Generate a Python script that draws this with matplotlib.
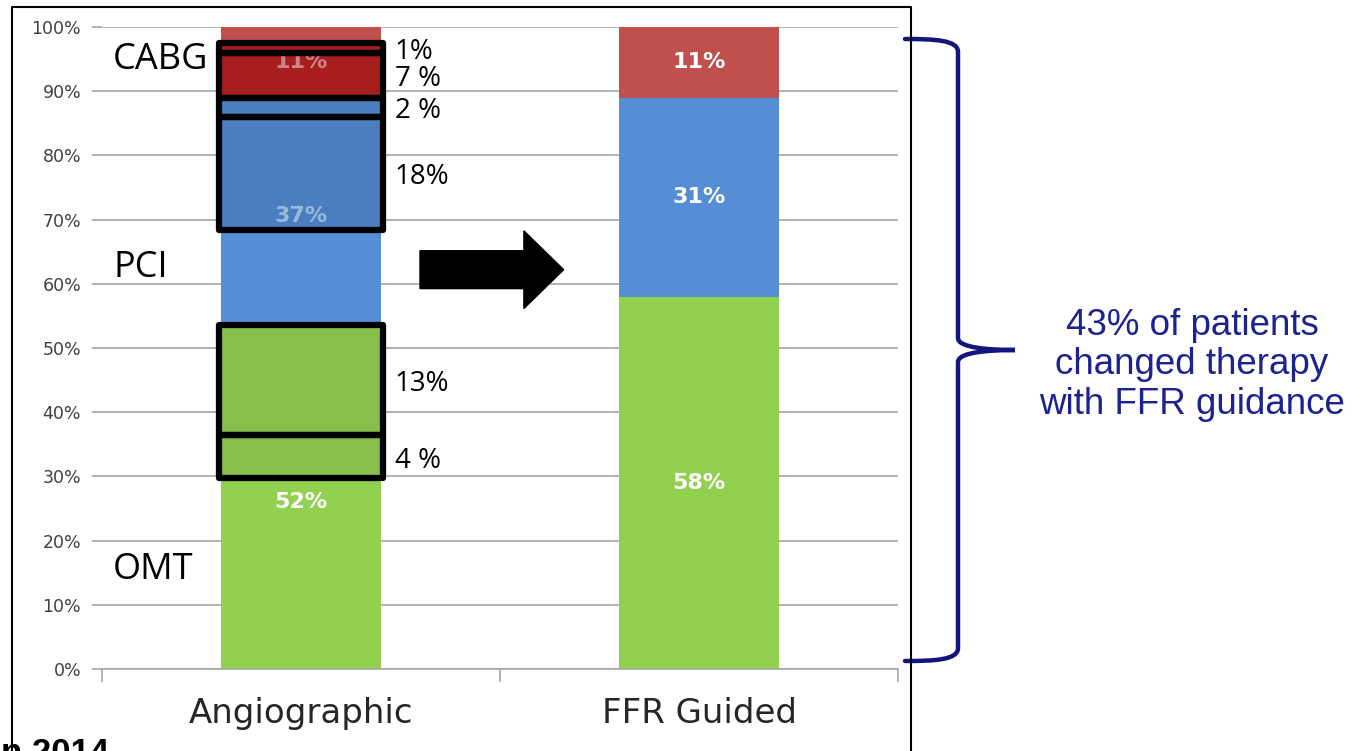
import numpy as np
import matplotlib as mpl
mpl.use('Agg')
import matplotlib.pyplot as plt
from matplotlib.patches import Rectangle, FancyArrow, PathPatch
from matplotlib.path import Path
from matplotlib.lines import Line2D

# Data
categories = ['Angiographic', 'FFR Guided']
omt = [52, 58]
pci = [37, 31]
cabg = [11, 11]

# highlighted slices of the angiographic bar (from, to, label)
box_lo = [96.0, 89.0, 86.0, 68.4, 36.4, 29.7]
box_hi = [97.5, 96.0, 89.0, 86.0, 53.6, 36.4]
box_labels = ['1%', '7 %', '2 %', '18%', '13%', '4 %']
box_fill = ['#A81E1E', '#A81E1E', '#4A7EBE', '#4A7EBE', '#88BE4A', '#88BE4A']

side_labels = ['CABG', 'PCI', 'OMT']
side_y = [94.9, 62.5, 15.4]

c_green = '#92D050'
c_blue = '#558ED5'
c_red = '#C0504D'

W, H = 1359, 751
fig = plt.figure(figsize=(W / 100, H / 100), dpi=100)
ax = fig.add_axes([102 / W, 1 - 669 / H, (898 - 102) / W, (669 - 27) / H])

x = np.arange(len(categories))
bw = 0.4
ax.bar(x, omt, bw, color=c_green, zorder=2)
ax.bar(x, pci, bw, bottom=omt, color=c_blue, zorder=2)
ax.bar(x, cabg, bw, bottom=np.add(omt, pci), color=c_red, zorder=2)

# segment labels (the ones under the highlight boxes look faded)
for i in range(len(categories)):
    for j, (val, bot) in enumerate([(omt[i], 0), (pci[i], omt[i]), (cabg[i], omt[i] + pci[i])]):
        a = 0.45 if (i == 0 and j > 0) else 1.0
        ax.text(x[i], bot + val / 2, f'{val}%', ha='center', va='center', color='white',
                alpha=a, fontsize=16, fontweight='bold', zorder=5)

# highlight boxes on the angiographic bar
for lo, hi, lab, fc in zip(box_lo, box_hi, box_labels, box_fill):
    ax.add_patch(Rectangle((x[0] - 0.205, lo), 0.41, hi - lo, facecolor=fc,
                           edgecolor='none', zorder=4))
    ax.add_patch(Rectangle((x[0] - 0.205, lo), 0.41, hi - lo, facecolor='none',
                           edgecolor='black', linewidth=4.5, joinstyle='round', zorder=6))
    ax.text(x[0] + 0.236, (lo + hi) / 2 - 0.6, lab, ha='left', va='center',
            fontsize=20, family='Open Sans', color='black', zorder=7)

for lab, yy in zip(side_labels, side_y):
    ax.text(-0.472, yy, lab, ha='left', va='center', fontsize=26,
            family='Open Sans', color='black', zorder=7)

# big arrow between bars
ax.add_patch(FancyArrow(0.299, 62.2, 0.66 - 0.299, 0, width=5.9, head_width=12.1,
                        head_length=0.1, length_includes_head=True,
                        color='black', zorder=7))

ax.set_xlim(-0.5, 1.5)
ax.set_ylim(0, 100)
ax.set_yticks(np.arange(0, 101, 10))
ax.set_yticklabels([f'{v}%' for v in range(0, 101, 10)])
ax.yaxis.grid(True, color='#A6A6A6', linewidth=1.2, zorder=0)
ax.set_xticks(x)
ax.set_xticklabels(categories, fontsize=24.5, color='#262626')
ax.set_xticks([-0.5, 0.5, 1.5], minor=True)
ax.tick_params(axis='x', which='major', length=0, pad=20)
ax.tick_params(axis='x', which='minor', length=9, color='#A6A6A6', width=1.2)
ax.tick_params(axis='y', length=7, color='#A6A6A6', width=1.2, labelsize=12.5,
               labelcolor='#404040', pad=8)
for s in ['top', 'right', 'left']:
    ax.spines[s].set_visible(False)
ax.spines['bottom'].set_color('#A6A6A6')
ax.spines['bottom'].set_linewidth(1.2)

# slide frame
fy = lambda p: 1 - p / H
fx = lambda p: p / W
fig.add_artist(Line2D([fx(12), fx(12), fx(911), fx(911)], [0, fy(7), fy(7), 0],
                      color='black', linewidth=1.5))

# curly bracket
navy = '#14147E'
verts = [(905, 39), (935, 39), (958, 40), (958, 52),
         (958, 338),
         (958, 348), (990, 350), (1015, 350),
         (990, 350), (958, 352), (958, 362),
         (958, 648),
         (958, 660), (935, 661), (905, 661)]
codes = [Path.MOVETO, Path.CURVE4, Path.CURVE4, Path.CURVE4,
         Path.LINETO,
         Path.CURVE4, Path.CURVE4, Path.CURVE4,
         Path.CURVE4, Path.CURVE4, Path.CURVE4,
         Path.LINETO,
         Path.CURVE4, Path.CURVE4, Path.CURVE4]
verts = [(fx(a), fy(b)) for a, b in verts]
fig.add_artist(PathPatch(Path(verts, codes), facecolor='none', edgecolor=navy,
                         linewidth=3.2, transform=fig.transFigure, capstyle='round'))

fig.text(fx(1192), fy(365), '43% of patients\nchanged therapy\nwith FFR guidance',
         ha='center', va='center', fontsize=26.5, family='Liberation Sans',
         color='#1C2290', linespacing=1.15)

# source line, cut by the bottom edge as in the slide
fig.text(fx(1), fy(763), 'n 2014', ha='left', va='baseline', fontsize=25,
         fontweight='bold', family='Liberation Sans', color='black')

plt.savefig('out.png', dpi=100)
